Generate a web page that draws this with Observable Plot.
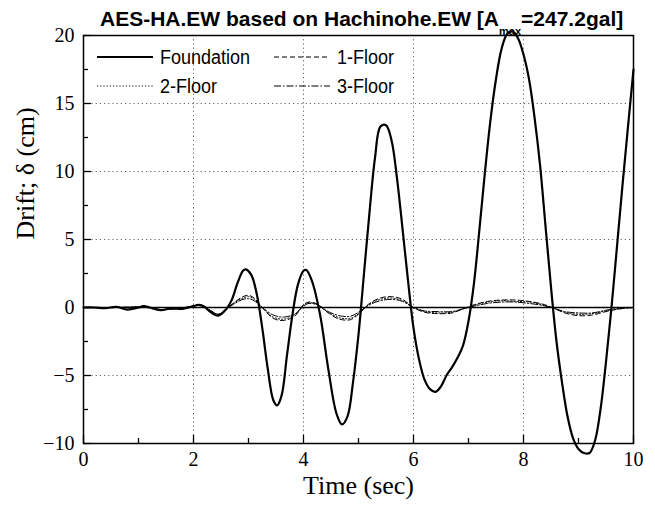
<!DOCTYPE html>
<html><head><meta charset="utf-8">
<script src="https://cdn.jsdelivr.net/npm/d3@7"></script>
<script src="https://cdn.jsdelivr.net/npm/@observablehq/plot@0.6"></script>
<style>
body{margin:0;background:#fff;}
#wrap{position:relative;width:655px;height:507px;}
#title{position:absolute;top:8px;left:100px;font:bold 21px "Liberation Sans",Arial,sans-serif;white-space:nowrap;line-height:1;color:#000;}
#title sub{font-size:11px;vertical-align:-9px;line-height:0;}
.leg{position:absolute;display:flex;align-items:center;height:20px;font:20px "Liberation Sans",Arial,sans-serif;white-space:nowrap;color:#000;}
.leg svg{margin-right:7px;}
.leg span{display:inline-block;transform:scaleX(0.9);transform-origin:left center;}
</style></head>
<body>
<div id="wrap"><div id="chart"></div>
<div id="title">AES-HA.EW based on Hachinohe.EW [A<sub>max</sub>=247.2gal]</div>
<div id="legend"></div></div>
<script>
// Foundation series
const tFoundation = [0,0.2,0.4,0.6,0.8,1.0,1.1,1.2,1.4,1.6,1.8,2.0,2.1,2.2,2.3,2.45,2.6,2.7,2.8,2.9,2.95,3.05,3.15,3.25,3.35,3.45,3.52,3.6,3.7,3.8,3.9,4.0,4.05,4.15,4.3,4.45,4.6,4.7,4.8,4.9,5.0,5.1,5.2,5.3,5.4,5.5,5.6,5.7,5.8,5.9,6.0,6.1,6.2,6.3,6.4,6.5,6.6,6.7,6.8,6.9,7.0,7.1,7.2,7.3,7.4,7.5,7.6,7.7,7.8,7.9,8.0,8.1,8.2,8.3,8.4,8.5,8.6,8.7,8.8,8.9,9.0,9.1,9.2,9.3,9.4,9.5,9.6,9.7,9.8,9.9,10.0];
const foundation = [0,0.0,-0.05,0.05,-0.15,0.0,0.1,0.0,-0.2,-0.05,-0.1,0.1,0.2,0.05,-0.3,-0.6,-0.1,0.6,1.8,2.7,2.8,2.4,1.0,-1.5,-4.5,-6.8,-7.2,-6.5,-3.5,-0.5,1.7,2.7,2.75,2.0,-0.5,-4.5,-7.8,-8.6,-8.0,-5.5,-2.0,2.5,7.0,11.0,13.3,13.4,12.3,9.5,5.8,2.0,-1.5,-3.8,-5.3,-6.0,-6.2,-5.8,-5.0,-4.4,-3.7,-2.8,-1.0,1.8,5.8,10.0,13.8,16.8,19.0,20.1,20.3,19.8,18.6,16.8,14.0,10.5,6.0,1.5,-2.5,-5.5,-8.0,-9.6,-10.4,-10.7,-10.7,-9.8,-7.5,-4.0,0.0,4.5,9.0,13.3,17.5];
// Floor series (shared time base)
const tFloor = [0,0.5,1.0,1.1,1.4,2.0,2.1,2.3,2.45,2.6,2.75,2.9,3.0,3.1,3.25,3.45,3.65,3.85,4.0,4.1,4.25,4.45,4.65,4.85,5.0,5.2,5.4,5.6,5.8,6.0,6.2,6.45,6.7,6.9,7.1,7.35,7.6,7.85,8.1,8.35,8.55,8.75,9.0,9.25,9.5,9.75,10];
const floor1 = [0,0,0.05,0.1,-0.15,0.1,0.2,-0.2,-0.5,-0.1,0.4,0.8,0.9,0.7,0.0,-0.8,-0.95,-0.6,0.2,0.4,0.25,-0.4,-0.85,-0.9,-0.5,0.3,0.7,0.8,0.6,0.0,-0.35,-0.45,-0.4,-0.1,0.2,0.45,0.55,0.55,0.45,0.25,-0.05,-0.4,-0.6,-0.55,-0.3,-0.1,0.0];
const floor2 = [0,0,0.05,0.1,-0.15,0.1,0.2,-0.2,-0.5,-0.1,0.35,0.7,0.8,0.6,0.0,-0.7,-0.85,-0.5,0.15,0.35,0.2,-0.35,-0.75,-0.8,-0.45,0.25,0.6,0.7,0.5,0.0,-0.3,-0.4,-0.35,-0.1,0.15,0.4,0.5,0.45,0.4,0.2,-0.05,-0.35,-0.5,-0.45,-0.25,-0.1,0.0];
const floor3 = [0,0,0.05,0.1,-0.15,0.1,0.2,-0.2,-0.5,-0.1,0.3,0.6,0.65,0.5,0.0,-0.55,-0.7,-0.45,0.1,0.3,0.2,-0.3,-0.6,-0.65,-0.35,0.2,0.5,0.6,0.45,0.0,-0.25,-0.3,-0.3,-0.1,0.1,0.3,0.4,0.4,0.3,0.15,-0.05,-0.3,-0.4,-0.4,-0.2,-0.05,0.0];
// Axis ticks
const xMajor = [0,2,4,6,8,10];
const xMinor = [1,3,5,7,9];
const yMajor = [-10,-5,0,5,10,15,20];
const yMinor = [-7.5,-2.5,2.5,7.5,12.5,17.5];
const xGrid = [2,4,6,8];
const yGrid = [-5,5,10,15];
const legendLabels = ["Foundation","1-Floor","2-Floor","3-Floor"];

const series = [
  {name: "Foundation", t: tFoundation, v: foundation, width: 2.2, dash: null},
  {name: "1-Floor", t: tFloor, v: floor1, width: 1, dash: "5,3"},
  {name: "2-Floor", t: tFloor, v: floor2, width: 1, dash: "1.2,2"},
  {name: "3-Floor", t: tFloor, v: floor3, width: 1, dash: "7,2,1.5,2"}
];
const toRows = s => s.t.map((t, i) => ({t, v: s.v[i]}));

const serif = "'Liberation Serif','Times New Roman',serif";
const lineMarks = series.slice().reverse().map(s => Plot.line(toRows(s), {
  x: "t", y: "v", stroke: "black", strokeWidth: s.width,
  strokeDasharray: s.dash || undefined, curve: "catmull-rom"
}));

const chart = Plot.plot({
  width: 655, height: 507,
  marginLeft: 83, marginRight: 22, marginTop: 35, marginBottom: 64,
  style: {fontFamily: serif, fontSize: "20px", color: "black", background: "white"},
  x: {domain: [0, 10], label: null},
  y: {domain: [-10, 20], label: null},
  marks: [
    Plot.gridX(xGrid, {stroke: "#666", strokeOpacity: 1, strokeDasharray: "1.2,3", strokeWidth: 1}),
    Plot.gridY(yGrid, {stroke: "#666", strokeOpacity: 1, strokeDasharray: "1.2,3", strokeWidth: 1}),
    Plot.ruleY([0], {stroke: "black", strokeWidth: 1.3}),
    ...lineMarks,
    Plot.axisX(xMajor, {tickSize: -8, tickFormat: () => "", strokeWidth: 1.3, label: null}),
    Plot.axisX(xMinor, {tickSize: -5, tickFormat: () => "", strokeWidth: 1.3, label: null}),
    Plot.axisX(xMajor, {tickSize: 0, tickPadding: 8, fontSize: 20, label: null}),
    Plot.axisY(yMajor, {tickSize: -8, tickFormat: () => "", strokeWidth: 1.3, label: null}),
    Plot.axisY(yMinor, {tickSize: -5, tickFormat: () => "", strokeWidth: 1.3, label: null}),
    Plot.axisY(yMajor, {tickSize: 0, tickPadding: 9, fontSize: 20, label: null}),
    Plot.frame({stroke: "black", strokeWidth: 1.5}),
    Plot.text(["Time (sec)"], {frameAnchor: "bottom", dy: 50, fontSize: 26, fontFamily: serif, text: d => d, style: "letter-spacing:1.5px"}),
    Plot.text(["Drift; δ (cm)"], {frameAnchor: "left", dx: -58, rotate: -90, fontSize: 26, fontFamily: serif, text: d => d})
  ]
});
document.getElementById("chart").appendChild(chart);

// Legend overlay
const legendPos = [[97, 57], [274, 57], [97, 86], [274, 86]];
const legend = document.getElementById("legend");
series.forEach((s, i) => {
  const [lx, ly] = legendPos[i];
  const div = document.createElement("div");
  div.className = "leg";
  div.style.left = lx + "px";
  div.style.top = (ly - 10) + "px";
  div.innerHTML = `<svg width="56" height="10"><line x1="0" x2="56" y1="5" y2="5" stroke="black" stroke-width="${s.width === 1 ? 1 : 1.8}" ${s.dash ? `stroke-dasharray="${s.dash}"` : ""}/></svg><span>${legendLabels[i]}</span>`;
  legend.appendChild(div);
});
</script>
</body></html>
